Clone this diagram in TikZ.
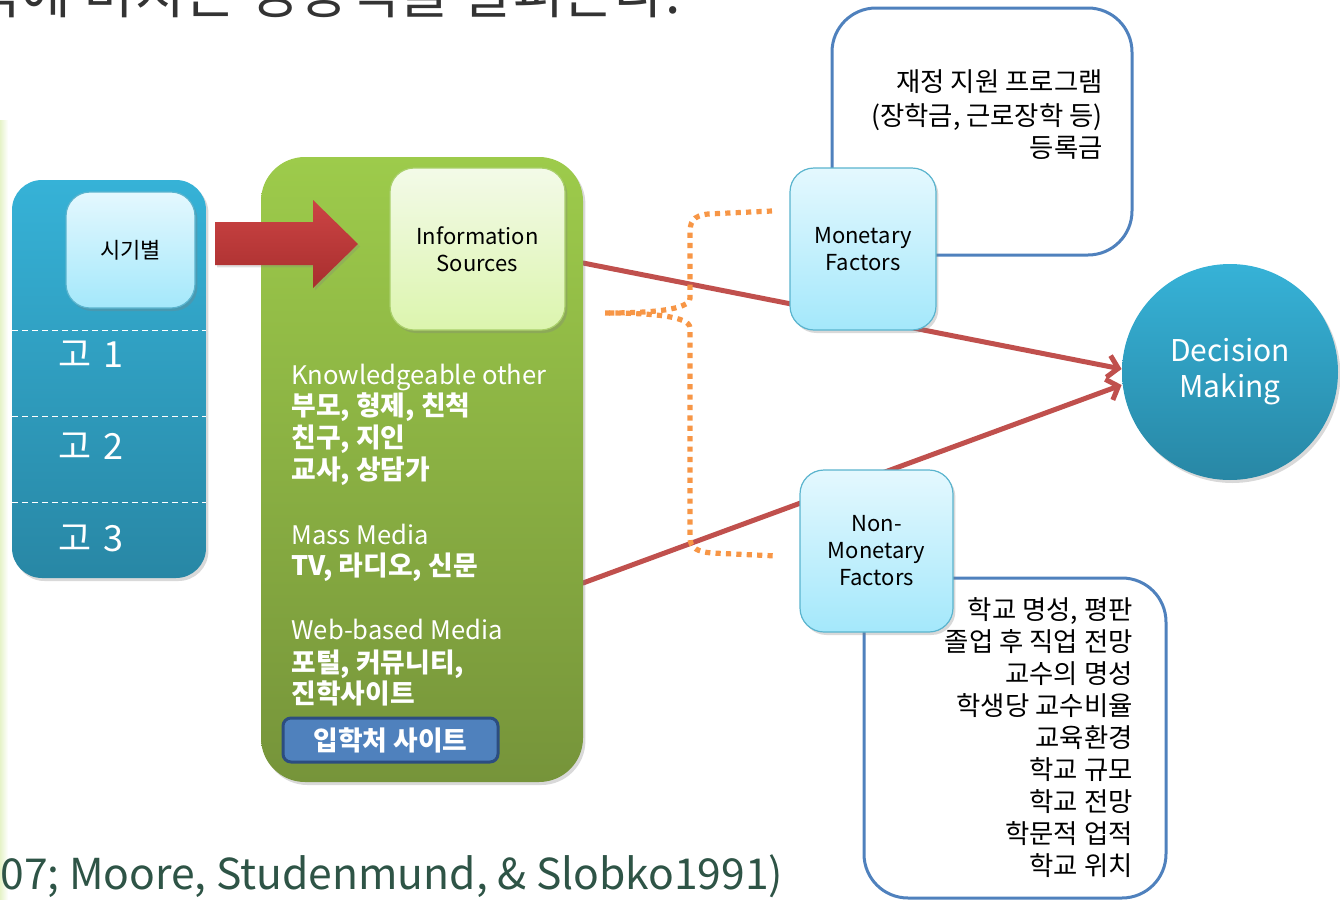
\documentclass[tikz,border=0pt]{standalone}
\usepackage{fontspec}
\setmainfont{Noto Sans CJK KR}
\usetikzlibrary{arrows.meta,shadows,backgrounds}

\definecolor{tealtop}{HTML}{36B2D7}
\definecolor{tealbot}{HTML}{2887A5}
\definecolor{greentop}{HTML}{9DCB4B}
\definecolor{greenbot}{HTML}{76943A}
\definecolor{cyantop}{HTML}{E4F8FE}
\definecolor{cyanbot}{HTML}{A4E8FB}
\definecolor{cyanedge}{HTML}{5AB4CE}
\definecolor{limetop}{HTML}{F3FAE8}
\definecolor{limebot}{HTML}{DCF5AE}
\definecolor{limeedge}{HTML}{A9CF6A}
\definecolor{linkred}{HTML}{C0504D}
\definecolor{arrowtop}{HTML}{CC4444}
\definecolor{arrowbot}{HTML}{A82E2E}
\definecolor{frameblue}{HTML}{4F81BD}
\definecolor{btnedge}{HTML}{2C4D80}
\definecolor{braceorange}{HTML}{F79646}
\definecolor{citegreen}{HTML}{2E5446}
\definecolor{titlegray}{HTML}{333333}
\definecolor{edgegreen}{HTML}{E6F3C8}

\tikzset{
  softshadow/.style={drop shadow={shadow xshift=1.2pt,shadow yshift=-1.5pt,opacity=0.3}},
}

\begin{document}
\begin{tikzpicture}[x=0.5pt,y=-0.5pt,line join=round,
    termcol/.style={rounded corners=15pt,top color=tealtop,bottom color=tealbot,minimum width=97pt,minimum height=199pt,inner sep=0pt,softshadow},
    lightbox/.style={rounded corners=12pt,draw=cyanedge,line width=0.6pt,top color=cyantop,bottom color=cyanbot,minimum width=73pt,minimum height=81pt,inner sep=0pt,align=center,font=\fontsize{11}{13.5}\selectfont,softshadow},
    srcbox/.style={lightbox,draw=limeedge,top color=limetop,bottom color=limebot,minimum width=87.5pt},
    greenpanel/.style={rounded corners=22pt,top color=greentop,bottom color=greenbot,minimum width=161pt,minimum height=312.5pt,inner sep=0pt,softshadow},
    listbox/.style={draw=frameblue,line width=1.5pt,rounded corners=22pt,fill=white,inner sep=0pt},
    srcline/.style={anchor=base west,inner sep=0pt,text=white,font=\fontsize{12.8}{14}\selectfont},
    srcbold/.style={srcline,font=\fontsize{13.4}{15}\selectfont\bfseries},
    factline/.style={anchor=base east,inner sep=0pt,font=\fontsize{13.2}{15}\selectfont},
    yearlabel/.style={anchor=base west,inner sep=0pt,text=white,font=\fontsize{18}{20}\selectfont},
    link/.style={linkred,line width=2.5pt,line cap=round,-{Straight Barb[length=5pt,width=11pt]}},
    bracket/.style={braceorange,line width=2.6pt,line cap=butt,dash pattern=on 2.6pt off 2.6pt}]
  \useasboundingbox (0,0) rectangle (1340,900);
  \clip (0,0) rectangle (1340,900);
  \shade[left color=edgegreen,right color=white] (0,120) rectangle (8,900);

  \node[anchor=base west,inner sep=0pt,text=titlegray,font=\fontsize{27.5}{30}\selectfont] (title) at (-30,13) {력에 미치는 영향력을 살펴본다.};
  \node[anchor=base west,inner sep=0pt,text=citegreen,font=\fontsize{21.3}{26}\selectfont] (cite) at (0,889) {07; Moore, Studenmund, \& Slobko1991)};

  \node[termcol] (term) at (109,379) {};
  \foreach \y in {330,416,502}
    \draw[white,densely dashed,line width=0.5pt] (12,\y) -- (206,\y);
  \node[lightbox,minimum width=64.5pt,minimum height=58pt] (period) at (130.5,250) {시기별};
  \node[yearlabel] (g1) at (58,367) {고\,\,1};
  \node[yearlabel] (g2) at (58,459) {고\,\,2};
  \node[yearlabel] (g3) at (58,551) {고\,\,3};

  \node[greenpanel] (media) at (422,469.5) {};
  \shade[top color=arrowtop,bottom color=arrowbot,drop shadow={shadow xshift=1pt,shadow yshift=-1.2pt,opacity=0.25}]
    (215,222) -- (313,222) -- (313,200) -- (358,244) -- (313,288) -- (313,265) -- (215,265) -- cycle;
  \node[srcbox] (info) at (477.5,249) {Information\\Sources};
  \node[srcline] (k0) at (291,384) {Knowledgeable other};
  \node[srcbold] (k1) at (291,415) {부모, 형제, 친척};
  \node[srcbold] (k2) at (291,447) {친구, 지인};
  \node[srcbold] (k3) at (291,479) {교사, 상담가};
  \node[srcline] (m0) at (291,544) {Mass Media};
  \node[srcbold] (m1) at (291,575) {TV, 라디오, 신문};
  \node[srcline] (w0) at (291,639) {Web-based Media};
  \node[srcbold] (w1) at (291,672) {포털, 커뮤니티,};
  \node[srcbold] (w2) at (291,703) {진학사이트};
  \node[draw=btnedge,line width=1.5pt,fill=frameblue,rounded corners=4pt,minimum width=107.5pt,minimum height=22pt,inner sep=0pt,text=white,font=\fontsize{13.4}{15}\selectfont\bfseries] (admit) at (390.5,740) {입학처 사이트\hspace{12pt}};
  \coordinate (outA) at (583,263);
  \coordinate (outB) at (583,583);

  \node[listbox,minimum width=150pt,minimum height=123.5pt] (money) at (982,131.5) {};
  \node[factline] (f1) at (1103,91) {재정 지원 프로그램};
  \node[factline] (f2) at (1103,125) {(장학금, 근로장학 등)};
  \node[factline] (f3) at (1103,157) {등록금};

  \node[listbox,minimum width=151pt,minimum height=160pt] (nonmoney) at (1015,738) {};
  \foreach \t [count=\i] in {{학교 명성, 평판},{졸업 후 직업 전망},{교수의 명성},{학생당 교수비율},{교육환경},{학교 규모},{학교 전망},{학문적 업적},{학교 위치}}
    \node[factline] (n\i) at (1133,{587+32*\i}) {\t};

  \node[lightbox] (mon) at (863,249) {Monetary\\Factors};
  \node[lightbox,minimum width=76.5pt] (nonmon) at (876.5,551) {Non-\\Monetary\\Factors};

  \node[circle,top color=tealtop,bottom color=tealbot,minimum size=108pt,inner sep=0pt,align=center,text=white,font=\fontsize{15}{18}\selectfont,softshadow] (dm) at (1230,372) {Decision\\Making};

  \begin{scope}[on background layer]
    \draw[link] (outA) -- ([yshift=1.5pt]dm.west);
    \draw[link] (outB) -- ([yshift=-6.5pt]dm.west);
  \end{scope}

  \draw[bracket] (772,211) -- (708,214) .. controls (692,216) and (690,222) .. (690,234) -- (690,298)
    .. controls (690,310) and (650,313) .. (605,313);
  \draw[bracket] (605,313) .. controls (650,313) and (690,316) .. (690,328) -- (690,538)
    .. controls (690,548) and (698,552) .. (712,553) -- (777,556);
\end{tikzpicture}
\end{document}
